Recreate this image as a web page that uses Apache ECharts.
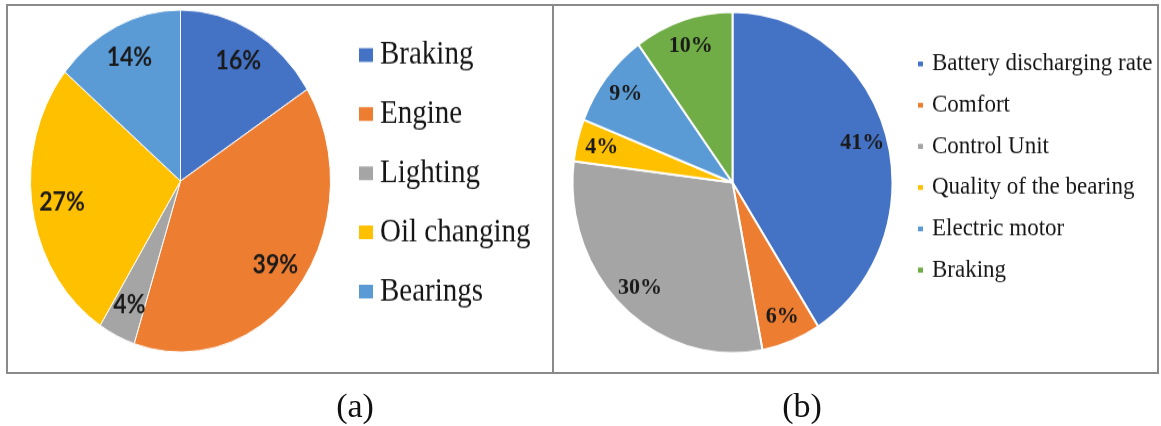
<!DOCTYPE html>
<html>
<head>
<meta charset="utf-8">
<script src="https://cdn.jsdelivr.net/npm/echarts@6.0.0/dist/echarts.min.js"></script>
<style>
  html, body { margin: 0; padding: 0; background: #ffffff; }
  #stage { position: relative; width: 1161px; height: 426px; overflow: hidden; }
  #frame { position: absolute; left: 0; top: 0; width: 1161px; height: 426px; }
  /* each pie sits in its own panel; the panels are stretched vertically */
  #pieA { position: absolute; left: 7px; top: 5px; width: 546px; height: 368px;
          transform: scaleY(1.14); transform-origin: 173.5px 176px; }
  #pieB { position: absolute; left: 553px; top: 5px; width: 605px; height: 368px;
          transform: scaleY(1.066); transform-origin: 179.5px 177.5px; }
</style>
</head>
<body>
<div id="stage">
  <div id="frame"></div>
  <div id="pieA"></div>
  <div id="pieB"></div>
</div>
<script>
// (a) share of maintenance causes, conventional vehicle
const aCategories = ['Braking', 'Engine', 'Lighting', 'Oil changing', 'Bearings'];
const aShares = [16, 39, 4, 27, 14];
const aColors = ['#4472C4', '#ED7D31', '#A5A5A5', '#FFC000', '#5B9BD5'];

// (b) share of maintenance causes, electric vehicle
const bCategories = ['Battery discharging rate', 'Comfort', 'Control Unit',
                     'Quality of the bearing', 'Electric motor', 'Braking'];
const bShares = [41, 6, 30, 4, 9, 10];
const bColors = ['#4472C4', '#ED7D31', '#A5A5A5', '#FFC000', '#5B9BD5', '#70AD47'];

const captions = ['(a)', '(b)'];

function toItems(names, values) {
  return names.map((n, i) => ({ name: n, value: values[i] }));
}

// panel borders and captions
const frame = echarts.init(document.getElementById('frame'), null, { renderer: 'canvas' });
frame.setOption({
  animation: false,
  graphic: [
    { type: 'rect', shape: { x: 7, y: 5, width: 546, height: 368 },
      style: { fill: null, stroke: '#8a8a8a', lineWidth: 2 }, silent: true },
    { type: 'rect', shape: { x: 553, y: 5, width: 605, height: 368 },
      style: { fill: null, stroke: '#8a8a8a', lineWidth: 2 }, silent: true },
    { type: 'text', x: 355, y: 408,
      style: { text: captions[0], font: '34px "Liberation Serif"', fill: '#111',
               align: 'center', verticalAlign: 'middle' } },
    { type: 'text', x: 802, y: 408,
      style: { text: captions[1], font: '34px "Liberation Serif"', fill: '#111',
               align: 'center', verticalAlign: 'middle' } }
  ]
});

function pieOption(cfg) {
  const items = toItems(cfg.names, cfg.values);
  return {
    animation: false,
    color: cfg.colors,
    legend: {
      orient: 'vertical',
      left: cfg.legendLeft,
      top: cfg.legendTop,
      padding: 0,
      itemGap: cfg.legendGap,
      itemWidth: cfg.iconW,
      itemHeight: cfg.iconH,
      icon: 'rect',
      selectedMode: false,
      data: cfg.names,
      textStyle: {
        fontFamily: 'Liberation Serif', fontSize: cfg.legendFont,
        lineHeight: cfg.legendLine, color: '#151515', padding: [0, 0, 0, cfg.textPad]
      }
    },
    series: [
      {
        // the slices
        type: 'pie',
        center: cfg.center,
        radius: [0, cfg.r],
        startAngle: 90,
        clockwise: true,
        data: items,
        label: { show: false },
        labelLine: { show: false },
        itemStyle: { borderColor: '#ffffff', borderWidth: cfg.border },
        emphasis: { disabled: true },
        silent: true
      },
      {
        // percentage labels placed along an inner ring of the same slices
        type: 'pie',
        center: cfg.center,
        radius: [cfg.labelR0, cfg.r],
        startAngle: 90,
        clockwise: true,
        data: items,
        legendHoverLink: false,
        itemStyle: { color: 'rgba(0,0,0,0)' },
        label: {
          show: true, position: 'inside', formatter: '{c}%',
          fontFamily: cfg.labelFamily, fontWeight: 'bold',
          fontSize: cfg.labelFont, color: '#1a1a1a'
        },
        labelLine: { show: false },
        emphasis: { disabled: true },
        silent: true
      }
    ]
  };
}

const chartA = echarts.init(document.getElementById('pieA'));
chartA.setOption(pieOption({
  names: aCategories, values: aShares, colors: aColors,
  center: [173.5, 176], r: 150, labelR0: 84, border: 1,
  labelFamily: 'Lato', labelFont: 23,
  legendLeft: 350, legendTop: 50.5, legendGap: 21.85, legendLine: 30,
  legendFont: 29, iconW: 16, iconH: 14, textPad: 1
}));

const chartB = echarts.init(document.getElementById('pieB'));
chartB.setOption(pieOption({
  names: bCategories, values: bShares, colors: bColors,
  center: [179.5, 177.5], r: 160, labelR0: 104, border: 2,
  labelFamily: 'Liberation Serif', labelFont: 22,
  legendLeft: 363, legendTop: 54.3, legendGap: 14.66, legendLine: 24,
  legendFont: 23, iconW: 7, iconH: 6.6, textPad: 3
}));
</script>
</body>
</html>
